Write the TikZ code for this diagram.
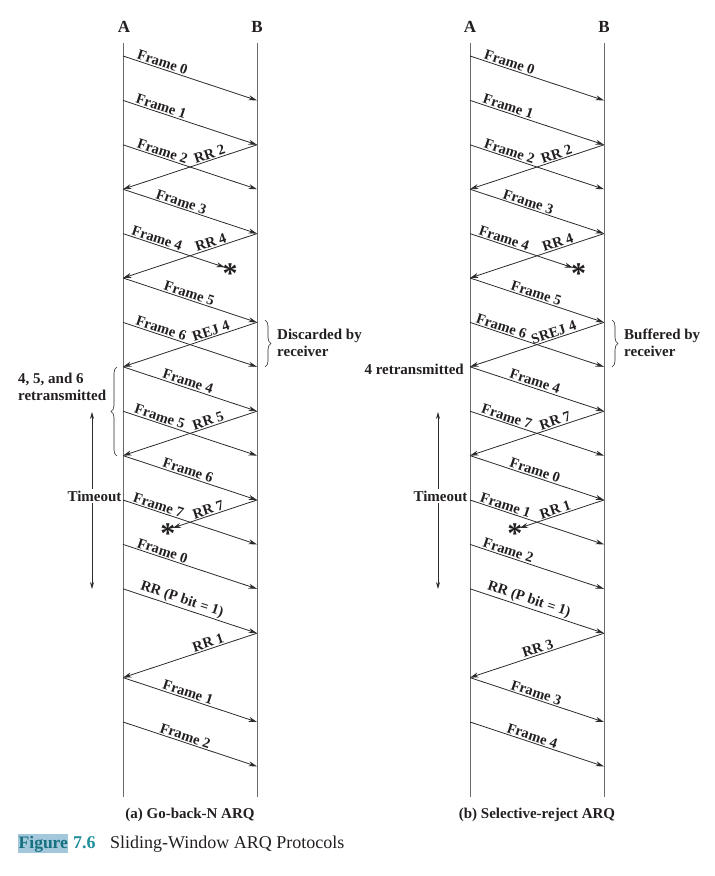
\documentclass[tikz,border=0pt]{standalone}
\usepackage{fontspec}
\setmainfont{Liberation Serif}
\usetikzlibrary{arrows.meta,calc,decorations.pathreplacing}
\definecolor{txtc}{HTML}{231F20}
\definecolor{linec}{HTML}{2B2B2B}
\definecolor{vlinec}{HTML}{6A6A6A}
\definecolor{tealA}{HTML}{17707F}
\definecolor{tealB}{HTML}{1E8E9A}
\definecolor{hlc}{HTML}{A3C8DC}
\newcommand\lblfont{\bfseries\fontsize{14.5}{17}\selectfont}
\newcommand\sidefont{\bfseries\fontsize{15}{17}\selectfont}
\begin{document}
\begin{tikzpicture}[x=1pt,y=-1pt,
  msg/.style={draw=linec, line width=0.8pt, -{Stealth[length=8.5pt,width=5pt]}},
  lbl/.style={font=\lblfont, text=txtc, sloped, above, inner sep=1.2pt},
  vline/.style={draw=vlinec, line width=1pt},
  hdr/.style={font=\bfseries\fontsize{17}{17}\selectfont, text=txtc},
  side/.style={font=\sidefont, text=txtc, align=left, inner sep=0pt},
  ast/.style={font=\bfseries\fontsize{30}{30}\selectfont, text=txtc, inner sep=0pt, yshift=-4pt},
  brc/.style={draw=linec, line width=0.6pt, decorate, decoration={brace, amplitude=6pt}},
  tarr/.style={draw=linec, line width=0.7pt, {Stealth[length=7pt,width=4pt]}-{Stealth[length=7pt,width=4pt]}},
  subcap/.style={font=\bfseries\fontsize{15}{17}\selectfont, text=txtc},
]
\useasboundingbox (0,0) rectangle (715,876);
\foreach \k in {0,...,16}{
  \pgfmathsetmacro\yy{56+44.4*\k}
  \coordinate (LA\k) at (123,\yy);
  \coordinate (LB\k) at (257,\yy);
  \coordinate (RA\k) at (470,\yy);
  \coordinate (RB\k) at (604,\yy);
}
% vertical time lines
\coordinate (LAtop) at (123,43); \coordinate (LAbot) at (123,797);
\coordinate (LBtop) at (257,43); \coordinate (LBbot) at (257,797);
\coordinate (RAtop) at (470,43); \coordinate (RAbot) at (470,797);
\coordinate (RBtop) at (604,43); \coordinate (RBbot) at (604,797);
\draw[vline] (LAtop) -- (LAbot);
\draw[vline] (LBtop) -- (LBbot);
\draw[vline] (RAtop) -- (RAbot);
\draw[vline] (RBtop) -- (RBbot);
\node[hdr] (hLA) at (124,27) {A};
\node[hdr] (hLB) at (257,27) {B};
\node[hdr] (hRA) at (470,27) {A};
\node[hdr] (hRB) at (604,27) {B};

% ---------------- (a) Go-back-N ----------------
\draw[msg] (LA0) -- node[lbl,pos=.28]{Frame 0} (LB1);
\draw[msg] (LA1) -- node[lbl,pos=.27]{Frame 1} (LB2);
\draw[msg] (LA2) -- node[lbl,pos=.28]{Frame 2} (LB3);
\draw[msg] (LB2) -- node[lbl,pos=.34]{RR 2} (LA3);
\draw[msg] (LA3) -- node[lbl,pos=.42]{Frame 3} (LB4);
\coordinate (L4t) at ($(LA4)!0.76!(LB5)$);
\node[ast] (L4s) at ($(LA4)!0.80!(LB5)$) {*};
\path (LA4) -- node[lbl,pos=.24]{Frame 4} (LB5);
\draw[msg] (LA4) -- (L4t);
\draw[msg] (LB4) -- node[lbl,pos=.33]{RR 4} (LA5);
\draw[msg] (LA5) -- node[lbl,pos=.48]{Frame 5} (LB6);
\draw[msg] (LA6) -- node[lbl,pos=.27]{Frame 6} (LB7);
\draw[msg] (LB6) -- node[lbl,pos=.33]{REJ 4} (LA7);
\draw[msg] (LA7) -- node[lbl,pos=.47]{Frame 4} (LB8);
\draw[msg] (LA8) -- node[lbl,pos=.26]{Frame 5} (LB9);
\draw[msg] (LB8) -- node[lbl,pos=.35]{RR 5} (LA9);
\draw[msg] (LA9) -- node[lbl,pos=.47]{Frame 6} (LB10);
\draw[msg] (LA10) -- node[lbl,pos=.25]{Frame 7} (LB11);
\coordinate (L7t) at ($(LB10)!0.63!(LA11)$);
\node[ast] (L7s) at ($(LB10)!0.665!(LA11)$) {*};
\path (LB10) -- node[lbl,pos=.35]{RR 7} (LA11);
\draw[msg] (LB10) -- (L7t);
\draw[msg] (LA11) -- node[lbl,pos=.28]{Frame 0} (LB12);
\draw[msg] (LA12) -- node[lbl,pos=.42]{RR (P bit = 1)} (LB13);
\draw[msg] (LB13) -- node[lbl,pos=.35]{RR 1} (LA14);
\draw[msg] (LA14) -- node[lbl,pos=.47]{Frame 1} (LB15);
\draw[msg] (LA15) -- node[lbl,pos=.45]{Frame 2} (LB16);

% braces and side labels (a)
\coordinate (LbrT) at (265,320); \coordinate (LbrB) at (265,367);
\draw[brc] (LbrT) -- (LbrB);
\node[side, anchor=west] (Ldisc) at (277,343) {Discarded by\\receiver};
\coordinate (LrbB) at (117,456); \coordinate (LrbT) at (117,367);
\draw[brc] (LrbB) -- (LrbT);
\node[side, anchor=west] (Lretr) at (18,387) {4, 5, and 6\\retransmitted};
\coordinate (LtoT) at (92,412); \coordinate (LtoB) at (92,589);
\draw[tarr] (LtoT) -- (LtoB);
\node[side, fill=white, inner sep=1.5pt] (Lto) at (94.5,496) {Timeout};
\node[subcap] (capa) at (190,815) {(a) Go-back-N ARQ};

% ---------------- (b) Selective-reject ----------------
\draw[msg] (RA0) -- node[lbl,pos=.28]{Frame 0} (RB1);
\draw[msg] (RA1) -- node[lbl,pos=.27]{Frame 1} (RB2);
\draw[msg] (RA2) -- node[lbl,pos=.28]{Frame 2} (RB3);
\draw[msg] (RB2) -- node[lbl,pos=.34]{RR 2} (RA3);
\draw[msg] (RA3) -- node[lbl,pos=.42]{Frame 3} (RB4);
\coordinate (R4t) at ($(RA4)!0.77!(RB5)$);
\node[ast] (R4s) at ($(RA4)!0.81!(RB5)$) {*};
\path (RA4) -- node[lbl,pos=.24]{Frame 4} (RB5);
\draw[msg] (RA4) -- (R4t);
\draw[msg] (RB4) -- node[lbl,pos=.33]{RR 4} (RA5);
\draw[msg] (RA5) -- node[lbl,pos=.48]{Frame 5} (RB6);
\draw[msg] (RA6) -- node[lbl,pos=.22]{Frame 6} (RB7);
\draw[msg] (RB6) -- node[lbl,pos=.36]{SREJ 4} (RA7);
\draw[msg] (RA7) -- node[lbl,pos=.47]{Frame 4} (RB8);
\draw[msg] (RA8) -- node[lbl,pos=.26]{Frame 7} (RB9);
\draw[msg] (RB8) -- node[lbl,pos=.35]{RR 7} (RA9);
\draw[msg] (RA9) -- node[lbl,pos=.47]{Frame 0} (RB10);
\draw[msg] (RA10) -- node[lbl,pos=.25]{Frame 1} (RB11);
\coordinate (R1t) at ($(RB10)!0.63!(RA11)$);
\node[ast] (R1s) at ($(RB10)!0.665!(RA11)$) {*};
\path (RB10) -- node[lbl,pos=.35]{RR 1} (RA11);
\draw[msg] (RB10) -- (R1t);
\draw[msg] (RA11) -- node[lbl,pos=.27]{Frame 2} (RB12);
\draw[msg] (RA12) -- node[lbl,pos=.42]{RR (P bit = 1)} (RB13);
\draw[msg] (RB13) -- node[lbl,pos=.48]{RR 3} (RA14);
\draw[msg] (RA14) -- node[lbl,pos=.48]{Frame 3} (RB15);
\draw[msg] (RA15) -- node[lbl,pos=.45]{Frame 4} (RB16);

% braces and side labels (b)
\coordinate (RbrT) at (612,320); \coordinate (RbrB) at (612,367);
\draw[brc] (RbrT) -- (RbrB);
\node[side, anchor=west] (Rbuf) at (624,343) {Buffered by\\receiver};
\node[side, anchor=east] (Rretr) at (464,369) {4 retransmitted};
\coordinate (RtoT) at (438,412); \coordinate (RtoB) at (438,589);
\draw[tarr] (RtoT) -- (RtoB);
\node[side, fill=white, inner sep=1.5pt] (Rto) at (440.5,496) {Timeout};
\node[subcap] (capb) at (537,815) {(b) Selective-reject ARQ};

% ---------------- caption ----------------
\node[anchor=base west, fill=hlc, text=tealA, font=\bfseries\fontsize{17.5}{18}\selectfont,
      inner xsep=0.5pt, inner ysep=0.6pt, text height=13pt, text depth=4pt] (figw) at (18,848) {Figure};
\node[anchor=base west, text=tealB, font=\bfseries\fontsize{18}{18}\selectfont, inner sep=0pt] (fignum) at (73,848) {7.6};
\node[anchor=base west, text=txtc, font=\fontsize{18}{18}\selectfont, inner sep=0pt] (figtxt) at (110,848) {Sliding-Window ARQ Protocols};
\end{tikzpicture}
\end{document}
